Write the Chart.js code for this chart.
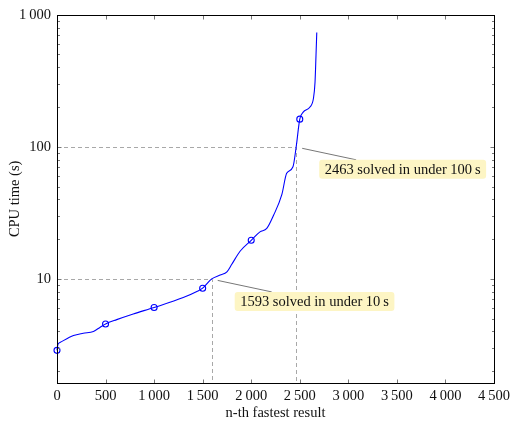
<!DOCTYPE html>
<html>
<head>
<meta charset="utf-8">
<script src="https://cdn.jsdelivr.net/npm/chart.js@4/dist/chart.umd.min.js"></script>
<style>
  body { margin: 0; background: #fff; }
  canvas { display: block; }
</style>
</head>
<body>
<canvas id="chart" width="514" height="422"></canvas>
<script>
// rank of result (n-th fastest) and its cpu time in seconds
const ranks = [0, 10, 30, 170, 270, 375, 445, 500, 615, 785, 1000, 1300, 1440, 1500, 1593, 1680, 1750, 1800, 1885, 2000,
	2090, 2160, 2230, 2315, 2365, 2430, 2463, 2500, 2535, 2605, 2640, 2657, 2667, 2675];
const times = [2.88, 3.2, 3.3, 3.73, 3.88, 4.0, 4.31, 4.56, 4.92, 5.43, 6.08, 7.22, 8.03, 8.51, 10, 10.7, 11.3, 12.9, 16.2, 19.6,
	22.7, 24.1, 30.3, 43.4, 63, 70.6, 100, 162, 183, 200, 231, 308, 490, 733];
const markerRanks = [0, 500, 1000, 1500, 2000, 2500];

const yTicks = [10, 100, 1000];
const yMinor = [2, 3, 4, 5, 6, 7, 8, 9, 20, 30, 40, 50, 60, 70, 80, 90, 200, 300, 400, 500, 600, 700, 800, 900];

// annotated thresholds
const marks = [
	{ rank: 1593, time: 10, text: "1593 solved in under 10\u2009s" },
	{ rank: 2463, time: 100, text: "2463 solved in under 100\u2009s" },
];

const FONT = "'Liberation Serif', 'DejaVu Serif', serif";
const SIZE = 14.5;

function fmt(v){
	if(v >= 1000){
		return Math.floor(v / 1000) + "\u2009" + String(v % 1000).padStart(3, "0");
	}
	return String(v);
}

const points = ranks.map((r, i) => ({ x: r, y: times[i] }));

const framePlugin = {
	id: "frame",
	beforeDatasetsDraw(chart){
		const ctx = chart.ctx;
		const x = chart.scales.x, y = chart.scales.y;
		const a = chart.chartArea;
		ctx.save();
		ctx.strokeStyle = "#a8a8a8";
		ctx.lineWidth = 1;
		ctx.setLineDash([4, 3]);
		marks.forEach(m => {
			const px = Math.round(x.getPixelForValue(m.rank)) + 0.5;
			const py = Math.round(y.getPixelForValue(m.time)) + 0.5;
			ctx.beginPath();
			ctx.moveTo(a.left, py);
			ctx.lineTo(px, py);
			ctx.lineTo(px, a.bottom);
			ctx.stroke();
		});
		ctx.restore();
	},
	afterDraw(chart){
		const ctx = chart.ctx;
		const x = chart.scales.x, y = chart.scales.y;
		const a = chart.chartArea;
		const L = Math.round(a.left) + 0.5, R = Math.round(a.right) + 0.5;
		const T = Math.round(a.top) + 0.5, B = Math.round(a.bottom) + 0.5;
		ctx.save();
		ctx.lineWidth = 1;

		// tick marks, pointing inwards
		ctx.strokeStyle = "#777";
		ctx.beginPath();
		x.ticks.forEach(t => {
			const px = Math.round(x.getPixelForValue(t.value)) + 0.5;
			ctx.moveTo(px, B); ctx.lineTo(px, B - 4);
			ctx.moveTo(px, T); ctx.lineTo(px, T + 4);
		});
		yTicks.forEach(v => {
			const py = Math.round(y.getPixelForValue(v)) + 0.5;
			ctx.moveTo(L, py); ctx.lineTo(L + 4, py);
			ctx.moveTo(R, py); ctx.lineTo(R - 4, py);
		});
		yMinor.forEach(v => {
			if(v < y.min) return;
			const py = Math.round(y.getPixelForValue(v)) + 0.5;
			ctx.moveTo(L, py); ctx.lineTo(L + 2.5, py);
			ctx.moveTo(R, py); ctx.lineTo(R - 2.5, py);
		});
		ctx.stroke();

		// box
		ctx.strokeStyle = "#000";
		ctx.strokeRect(L, T, R - L, B - T);

		// pins and labels
		ctx.font = SIZE + "px " + FONT;
		ctx.textBaseline = "middle";
		marks.forEach(m => {
			const px = x.getPixelForValue(m.rank);
			const py = y.getPixelForValue(m.time);
			const ex = px + 60, ey = py + 13;
			ctx.strokeStyle = "#777";
			ctx.beginPath();
			ctx.moveTo(px + 6, py + 1.5);
			ctx.lineTo(ex, ey);
			ctx.stroke();

			const w = ctx.measureText(m.text).width + 11;
			const bx = ex - 37, by = ey;
			ctx.fillStyle = "#fdf5c4";
			ctx.beginPath();
			ctx.roundRect(bx, by, w, 19, 3);
			ctx.fill();
			ctx.fillStyle = "#111";
			ctx.textAlign = "left";
			ctx.fillText(m.text, bx + 5.5, by + 10);
		});
		ctx.restore();
	}
};

new Chart(document.getElementById("chart"), {
	type: "line",
	data: {
		datasets: [{
			data: points,
			borderColor: "#0000ff",
			borderWidth: 1.1,
			backgroundColor: "transparent",
			cubicInterpolationMode: "monotone",
			pointRadius: (c) => markerRanks.includes(c.raw && c.raw.x) ? 3 : 0,
			pointBorderColor: "#0000ff",
			pointBorderWidth: 1.1,
			pointBackgroundColor: "transparent",
			clip: 6,
		}]
	},
	options: {
		responsive: false,
		animation: false,
		events: [],
		layout: { padding: { left: 0, right: 20, top: 12, bottom: 0 } },
		plugins: { legend: { display: false }, tooltip: { enabled: false } },
		scales: {
			x: {
				type: "linear",
				min: 0,
				max: 4500,
				grid: { display: false, drawTicks: false },
				border: { display: false },
				ticks: {
					stepSize: 500,
					padding: 4,
					color: "#111",
					font: { family: FONT, size: SIZE },
					maxRotation: 0,
					callback: (v) => fmt(v),
				},
				title: {
					display: true,
					text: "n-th fastest result",
					color: "#111",
					font: { family: FONT, size: SIZE },
					padding: { top: 0, bottom: 0 },
				},
				afterFit: (s) => { s.height = 39; },
			},
			y: {
				type: "logarithmic",
				min: 1.63,
				max: 1000,
				grid: { display: false, drawTicks: false },
				border: { display: false },
				afterBuildTicks: (s) => { s.ticks = yTicks.map(v => ({ value: v })); },
				ticks: {
					padding: 6,
					color: "#111",
					font: { family: FONT, size: SIZE },
					callback: (v) => fmt(v),
				},
				title: {
					display: true,
					text: "CPU time (s)",
					color: "#111",
					font: { family: FONT, size: SIZE },
					padding: { top: 6, bottom: 0 },
				},
				afterFit: (s) => { s.width = 57; },
			}
		}
	},
	plugins: [framePlugin]
});
</script>
</body>
</html>
